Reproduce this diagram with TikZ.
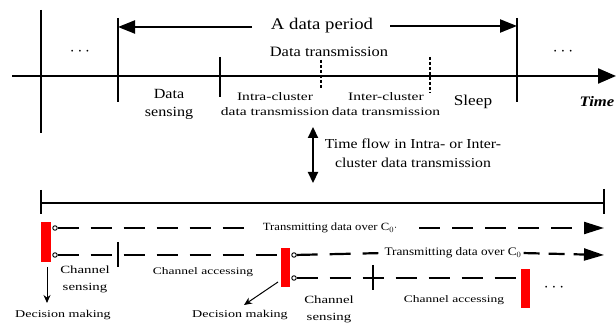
\documentclass[tikz,border=0pt]{standalone}
\usepackage{fontspec}
\setmainfont[FakeStretch=1.15]{Liberation Serif}
\newfontfamily\widefont[FakeStretch=1.35]{Liberation Serif}
\usetikzlibrary{arrows.meta}
\begin{document}
\begin{tikzpicture}[x=1pt,y=-1pt,
  ln/.style={line width=2.2pt},
  dsh/.style={line width=2.2pt, dash pattern=on 21pt off 12pt},
  redbar/.style={fill=red, draw=none},
  lbl/.style={inner sep=0pt, align=center, font=\widefont\fontsize{11}{17}\selectfont},
  small/.style={inner sep=0pt, align=center, font=\widefont\fontsize{11.5}{15}\selectfont},
  dotc/.style={circle, draw, line width=0.9pt, fill=white, inner sep=0pt, minimum size=4.5pt},
  bigtip/.style={-{Triangle[length=17pt,width=13pt]}},
  dottext/.style={inner sep=0pt, font=\fontsize{19}{20}\selectfont}
]
\useasboundingbox (0,0) rectangle (616,323);
% top timeline
\coordinate (tl0) at (12,76);
\coordinate (tl1) at (616,76);
\draw[ln, -{Triangle[length=18pt,width=15pt]}] (tl0) -- (tl1);
\coordinate (v1a) at (41,10); \coordinate (v1b) at (41,133);
\draw[ln] (v1a) -- (v1b);
\coordinate (v2a) at (118,18); \coordinate (v2b) at (118,102);
\draw[ln] (v2a) -- (v2b);
\coordinate (v3a) at (517,18); \coordinate (v3b) at (517,102);
\draw[ln] (v3a) -- (v3b);
\coordinate (v4a) at (220,57); \coordinate (v4b) at (220,97);
\draw[ln] (v4a) -- (v4b);
\coordinate (d1a) at (321,60); \coordinate (d1b) at (321,89);
\draw[line width=2.2pt, dash pattern=on 3pt off 2pt] (d1a) -- (d1b);
\coordinate (d2a) at (430,57); \coordinate (d2b) at (430,93);
\draw[line width=2.2pt, dash pattern=on 3pt off 2pt] (d2a) -- (d2b);
% A data period
\node[inner sep=0pt, font=\fontsize{16.3}{18}\selectfont] (adp) at (322,26) {A data period};
\coordinate (pl) at (118,27); \coordinate (pr) at (517,26);
\coordinate (plx) at (252,27); \coordinate (prx) at (390,26);
\draw[ln, bigtip] (plx) -- (pl);
\draw[ln, bigtip] (prx) -- (pr);
\node[inner sep=0pt, font=\fontsize{14.3}{16}\selectfont] (dtr) at (329,52) {Data transmission};
\node[dottext] (dots1) at (80,52) {$\cdots$};
\node[dottext] (dots2) at (563,52) {$\cdots$};
\node[inner sep=0pt, align=center, font=\fontsize{14}{18}\selectfont] (ds) at (169,104) {Data\\sensing};
\node[small] (intra) at (275,104) {Intra-cluster\\data transmission};
\node[small] (inter) at (386,104) {Inter-cluster\\data transmission};
\node[inner sep=0pt, font=\fontsize{15}{16}\selectfont] (sleep) at (473,102) {Sleep};
\node[inner sep=0pt, font=\fontsize{14.5}{16}\selectfont\bfseries\itshape] (time) at (597,102) {Time};
% time flow
\coordinate (tfa) at (313,127); \coordinate (tfb) at (313,183);
\draw[line width=2.2pt, {Triangle[length=11pt,width=10pt]}-{Triangle[length=11pt,width=10pt]}] (tfa) -- (tfb);
\node[inner sep=0pt, align=center, font=\fontsize{13.7}{19}\selectfont] (tf) at (413,153) {Time flow in Intra- or Inter-\\cluster data transmission};
% bottom bracket
\coordinate (b0) at (41,203); \coordinate (b1) at (604,203);
\draw[ln] (b0) -- (b1);
\coordinate (b0a) at (41,190); \coordinate (b0b) at (41,214);
\draw[ln] (b0a) -- (b0b);
\coordinate (b1a) at (604,189); \coordinate (b1b) at (604,214);
\draw[ln] (b1a) -- (b1b);
% red bars
\fill[redbar] (41,222) rectangle (51,262);
\fill[redbar] (281,248) rectangle (290,287);
\fill[redbar] (521,269) rectangle (530,308);
% circles
\node[dotc] (c1) at (55,228) {};
\node[dotc] (c2) at (55,255) {};
\node[dotc] (c3) at (294,255) {};
\node[dotc] (c4) at (294,278) {};
% line 1
\node[inner sep=0pt, font=\fontsize{11}{12}\selectfont] (t1) at (330,228) {Transmitting data over C$_0$$\cdot$};
\coordinate (e1) at (604,228);
\draw[dsh, shorten >=16pt] (c1) -- (t1.west);
\draw[dsh, shorten <=22pt, -{Triangle[length=20pt,width=12pt]}] (t1.east) -- (e1);
% line 2
\coordinate (r2l) at (281,255);
\draw[dsh] (c2) -- (r2l);
\coordinate (tk1a) at (118,242); \coordinate (tk1b) at (118,267);
\draw[ln] (tk1a) -- (tk1b);
\node[inner sep=0pt, font=\fontsize{11.5}{12}\selectfont] (t2) at (453,253) {Transmitting data over C$_0$};
\coordinate (e2) at (604,255);
\draw[dsh, shorten >=6pt] (c3) -- (t2.west);
\draw[line width=2.2pt, dash pattern=on 16pt off 9pt, shorten <=2pt, -{Triangle[length=20pt,width=12pt]}] (t2.east) -- (e2);
% line 3
\coordinate (r3l) at (521,278);
\draw[dsh] (c4) -- (r3l);
\coordinate (tk2a) at (373,265); \coordinate (tk2b) at (373,290);
\draw[ln] (tk2a) -- (tk2b);
\node[dottext] (dots3) at (554,288) {$\cdots$};
% labels
\node[lbl] (cs1) at (85,279) {Channel\\sensing};
\node[lbl, font=\widefont\fontsize{10}{12}\selectfont] (ca1) at (203,272) {Channel accessing};
\node[lbl] (cs2) at (329,309) {Channel\\sensing};
\node[lbl, font=\widefont\fontsize{10}{12}\selectfont] (ca2) at (454,300) {Channel accessing};
\node[lbl, font=\widefont\fontsize{10.4}{12}\selectfont] (dm1) at (63,315) {Decision making};
\node[lbl, font=\widefont\fontsize{10.4}{12}\selectfont] (dm2) at (240,315) {Decision making};
\coordinate (a1s) at (47,267); \coordinate (a1e) at (47,303);
\draw[line width=1pt, -{Stealth[length=8pt,width=7pt]}] (a1s) -- (a1e);
\coordinate (a2s) at (278,282); \coordinate (a2e) at (244,305);
\draw[line width=1pt, -{Stealth[length=8pt,width=7pt]}] (a2s) -- (a2e);
\end{tikzpicture}
\end{document}
